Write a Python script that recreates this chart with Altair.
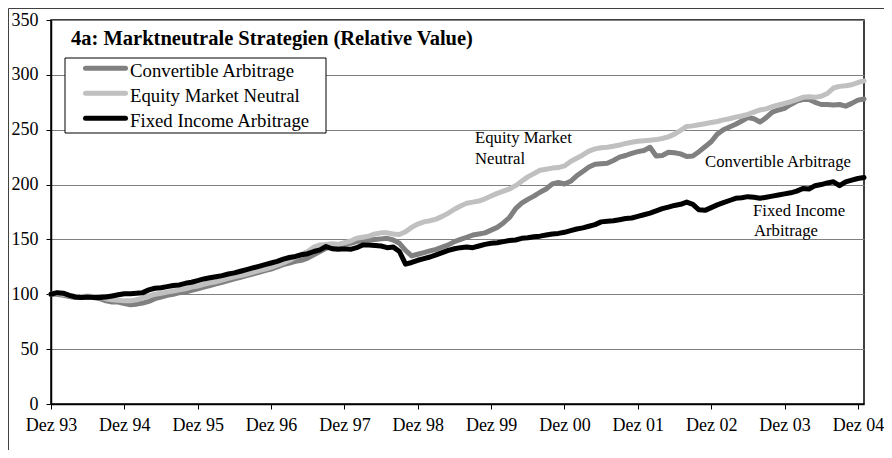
import altair as alt
import pandas as pd

# ---------------- data (monthly index values, Dez 93 = 100) ----------------
series_names = ["Convertible Arbitrage", "Equity Market Neutral", "Fixed Income Arbitrage"]
series_colors = ["#808080", "#c0c0c0", "#000000"]
tick_labels = ["Dez 93", "Dez 94", "Dez 95", "Dez 96", "Dez 97", "Dez 98",
               "Dez 99", "Dez 00", "Dez 01", "Dez 02", "Dez 03", "Dez 04"]
y_ticks = [0, 50, 100, 150, 200, 250, 300, 350]

convertible = [
    100, 100, 99, 98, 97, 97, 97.5, 97, 96, 94, 93, 93,
    91.5, 90.5, 91, 92, 93.5, 96, 97.5, 99, 100, 101.5, 102, 103.5,
    105, 106.5, 108, 109.5, 111, 112.5, 114, 115.5, 117, 118.5, 120, 121.5,
    123, 125, 127, 128.5, 130, 131, 133, 136, 139, 142, 143, 145,
    146, 146.5, 148, 149, 149.5, 150, 150.5, 151, 149.5, 146.5, 140, 135,
    136.5, 138, 139.5, 141, 143, 145, 148, 150, 152, 154, 155, 156,
    158.5, 161, 165, 170, 178, 183, 186.5, 189.5, 193, 196, 200.5, 202,
    200.5, 203, 208, 212, 216, 218.5, 219, 219.5, 222, 225, 226.5, 228.5,
    230, 231, 234, 226, 226.5, 229.5, 229, 228, 225.5, 226, 230, 234.5,
    239, 246, 250, 252.5, 255, 258, 261, 260, 257, 261, 266, 268,
    269.5, 273, 276, 277.5, 277.5, 275, 273, 273, 272.5, 273, 271.5, 274,
    277, 278,
]
equity = [
    100, 101, 100, 99, 98, 98, 98.5, 98, 97.5, 96, 95, 94.5,
    94, 94, 95, 96.5, 98.5, 100, 101, 102, 103, 104, 105, 106.5,
    107.5, 109, 110.5, 111.5, 113, 114.5, 116, 117, 118.5, 120, 121.5, 123,
    124.5, 126.5, 128.5, 131, 134, 136.5, 139, 143, 145, 145.5, 146, 145.5,
    147, 148.5, 151, 152, 153, 155, 156, 156, 155, 154.5, 157, 161,
    164, 166, 167, 168.5, 171, 174, 177.5, 180.5, 183, 184, 185, 187,
    189.5, 192, 194, 196, 199, 203, 207, 210, 213, 214, 215, 215.5,
    217, 221, 224, 227, 230.5, 232.5, 233.5, 234, 235, 236, 237.5, 238.5,
    239.5, 240, 240.5, 241, 242, 243.5, 246, 249.5, 253, 253.5, 254.5, 255.5,
    256.5, 257.5, 259, 260, 261.5, 262.5, 264, 266, 268, 269, 271, 272.5,
    274, 275.5, 277.5, 279.5, 280, 279.5, 280.5, 283, 288, 289.5, 290, 291,
    293, 294.5,
]
fixed_income = [
    100, 101.5, 101, 99, 97.5, 97, 97.5, 97, 97, 97.5, 98.5, 99.5,
    100.5, 100.5, 101, 101.5, 104, 105.5, 106, 107, 108, 108.5, 110, 111,
    112.5, 114, 115, 116, 117, 118.5, 119.5, 121, 122.5, 124, 125.5, 127,
    128.5, 130, 132, 133.5, 134.5, 136, 137, 139, 140.5, 143.5, 141.5, 141,
    141.5, 141, 142.5, 145, 145, 144.5, 144, 142.5, 143, 139, 127.5, 129,
    131, 132.5, 134, 136, 138, 140, 141.5, 142.5, 143, 142.5, 144, 145.5,
    146.5, 147, 148, 149, 149.5, 151, 151.5, 152.5, 153, 154, 155, 155.5,
    156.5, 158, 159.5, 160.5, 162, 163.5, 166, 166.5, 167, 168, 169, 169.5,
    171, 172.5, 174, 176, 178, 179.5, 181, 182, 184, 182, 177, 176.5,
    179, 181.5, 183.5, 185.5, 187.5, 188, 189, 188.5, 187.5, 188.5, 189.5, 190.5,
    191.5, 192.5, 194, 196.5, 196, 199, 200, 201.5, 202.5, 199, 202.5, 204,
    205.5, 206.5,
]
months = list(range(len(convertible)))

chart_title = "4a: Marktneutrale Strategien (Relative Value)"
annotations = [
    ("Equity Market", 424, 123),
    ("Neutral", 424, 144),
    ("Convertible Arbitrage", 654, 147),
    ("Fixed Income", 702, 196),
    ("Arbitrage", 703, 216),
]

# ---------------- build table ----------------
rows = []
for name, vals in zip(series_names, [convertible, equity, fixed_income]):
    for m, v in zip(months, vals):
        rows.append({"m": m, "v": v, "series": name})
df = pd.DataFrame(rows)

W, H = 813, 384
FONT = "Liberation Serif"

label_js = "[" + ",".join("'%s'" % t for t in tick_labels) + "]"

x_enc = alt.X(
    "m:Q",
    scale=alt.Scale(domain=[0, len(months) - 1], nice=False, zero=False),
    axis=alt.Axis(values=[12 * i for i in range(len(tick_labels))],
                  labelExpr=label_js + "[round(datum.value/12)]",
                  title=None, grid=False, labelPadding=7,
                  labelOverlap=False, labelFlush=False, labelBound=False),
)
y_enc = alt.Y(
    "v:Q",
    scale=alt.Scale(domain=[0, 350], nice=False),
    axis=alt.Axis(values=y_ticks, title=None, grid=True, gridColor="#808080",
                  gridWidth=1, labelPadding=8, labelOverlap=False, labelFlush=False),
)

one = pd.DataFrame({"k": [0]})

# outer frame (only left and top edges are visible in the picture)
frame_left = alt.Chart(one).mark_rule(color="#404040", strokeWidth=1).encode(
    x=alt.value(-42.5), y=alt.value(-11.5), y2=alt.value(H + 46)
)
frame_top = alt.Chart(one).mark_rule(color="#404040", strokeWidth=1).encode(
    x=alt.value(-42.5), x2=alt.value(W + 20), y=alt.value(-11.5)
)

layers = [frame_left, frame_top]
for name, col in zip(series_names, series_colors):
    layers.append(
        alt.Chart(df).transform_filter(alt.datum.series == name)
        .mark_line(color=col, strokeWidth=5, strokeJoin="round", strokeCap="round")
        .encode(x=x_enc, y=y_enc)
    )

# title
layers.append(
    alt.Chart(pd.DataFrame({"t": [chart_title]})).mark_text(
        font=FONT, fontSize=20.5, fontWeight="bold", align="left",
        baseline="alphabetic", color="black"
    ).encode(x=alt.value(20), y=alt.value(25), text="t:N")
)

# legend box
layers.append(
    alt.Chart(one).mark_rect(fill="white", stroke="black", strokeWidth=1).encode(
        x=alt.value(14), x2=alt.value(275), y=alt.value(38), y2=alt.value(113)
    )
)
for i, (name, col) in enumerate(zip(series_names, series_colors)):
    ly = 48.3 + 25 * i
    layers.append(
        alt.Chart(one).mark_rule(color=col, strokeWidth=5, strokeCap="round").encode(
            x=alt.value(34.5), x2=alt.value(74.5), y=alt.value(ly)
        )
    )
    layers.append(
        alt.Chart(pd.DataFrame({"t": [name]})).mark_text(
            font=FONT, fontSize=18.75, align="left", baseline="alphabetic", color="black"
        ).encode(x=alt.value(79), y=alt.value(57 + 25 * i), text="t:N")
    )

# annotations
for txt, ax, ay in annotations:
    layers.append(
        alt.Chart(pd.DataFrame({"t": [txt]})).mark_text(
            font=FONT, fontSize=16.7, align="left", baseline="alphabetic", color="black"
        ).encode(x=alt.value(ax), y=alt.value(ay), text="t:N")
    )

chart = alt.layer(*layers).properties(
    width=W, height=H,
    padding={"left": 43, "top": 12, "right": 20, "bottom": 46},
    autosize=alt.AutoSizeParams(type="none"),
).configure_view(
    stroke="black", strokeWidth=1.5
).configure_axis(
    domainColor="black", domainWidth=1.5, tickColor="black", tickSize=5, tickWidth=1,
    labelFont=FONT, labelFontSize=18, labelColor="black",
)

chart.save("out.html", embed_options={"renderer": "svg", "actions": False})
